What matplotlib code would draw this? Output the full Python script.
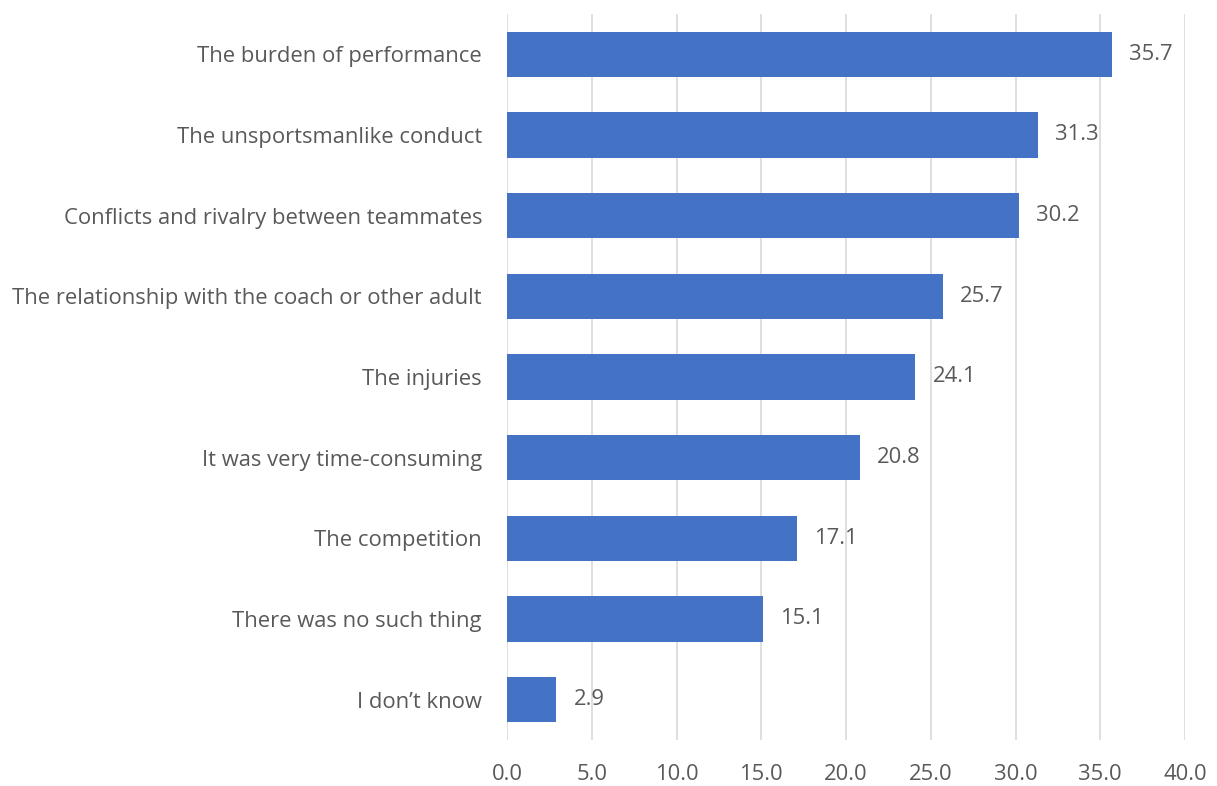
import matplotlib.pyplot as plt
import numpy as np

# Reasons for quitting sport (%)
categories = [
    'The burden of performance',
    'The unsportsmanlike conduct',
    'Conflicts and rivalry between teammates',
    'The relationship with the coach or other adult',
    'The injuries',
    'It was very time-consuming',
    'The competition',
    'There was no such thing',
    'I don\u2019t know',
]
values = [35.7, 31.3, 30.2, 25.7, 24.1, 20.8, 17.1, 15.1, 2.9]
x_ticks = np.arange(0, 45, 5)

plt.rcParams['font.family'] = ['Open Sans', 'DejaVu Sans']
text_color = '#595959'
fs = 15.8

fig = plt.figure(figsize=(12.17, 7.86), dpi=100)
ax = fig.add_axes([507 / 1217, 46 / 786, 678 / 1217, 726 / 786])

y = np.arange(len(categories))
ax.barh(y, values, height=0.56, color='#4472C4', zorder=3)

for yi, v in zip(y, values):
    ax.annotate(f'{v:.1f}', (v, yi), xytext=(12.5, 0), textcoords='offset points',
                va='center', ha='left', fontsize=fs, color=text_color)

ax.set_xlim(0, 40)
ax.set_ylim(len(categories) - 0.5, -0.5)
ax.set_xticks(x_ticks)
ax.set_xticklabels([f'{t:.1f}' for t in x_ticks], fontsize=fs, color=text_color)
ax.set_yticks(y)
ax.set_yticklabels(categories, fontsize=fs, color=text_color)
ax.tick_params(length=0)
ax.tick_params(axis='x', pad=17)
ax.tick_params(axis='y', pad=18)

ax.grid(axis='x', color='#D9D9D9', linewidth=1.2, zorder=0)
for s in ax.spines.values():
    s.set_visible(False)

fig.savefig('out.png', dpi=100, facecolor='white')
